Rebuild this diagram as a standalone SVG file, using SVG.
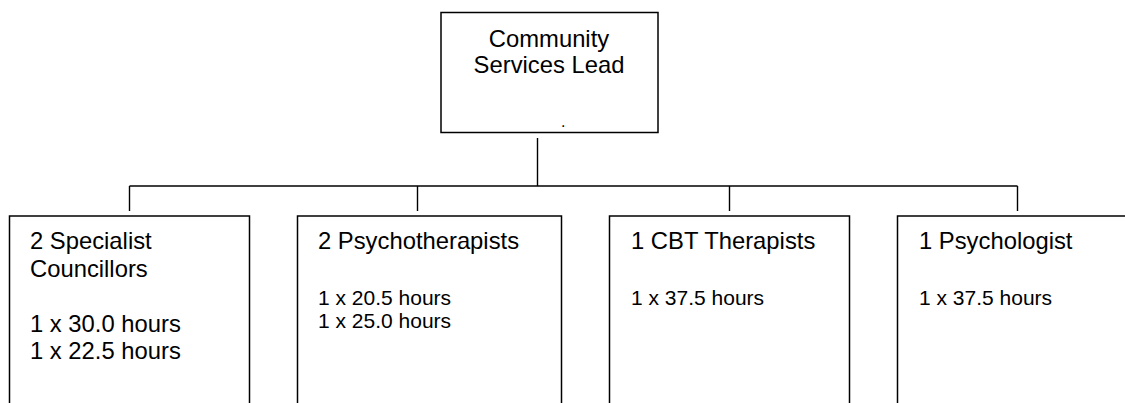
<svg xmlns="http://www.w3.org/2000/svg" width="1125" height="403" viewBox="0 0 1125 403">
<style>
.box{fill:#fff;stroke:#000;stroke-width:1.5}
.con{fill:none;stroke:#000;stroke-width:1.4}
text{font-family:"Liberation Sans",Arial,sans-serif;fill:#000}
.t{font-size:23.8px}
.h{font-size:21px}
</style>
<rect width="1125" height="403" fill="#fff"/>
<g id="connectors">
<line class="con" x1="537.5" y1="138" x2="537.5" y2="186"/>
<line class="con" x1="129.5" y1="186" x2="1017.5" y2="186"/>
<line class="con" x1="129.5" y1="186" x2="129.5" y2="211"/>
<line class="con" x1="417.5" y1="186" x2="417.5" y2="211"/>
<line class="con" x1="729.5" y1="186" x2="729.5" y2="211"/>
<line class="con" x1="1017.5" y1="186" x2="1017.5" y2="211"/>
</g>
<g id="lead">
<rect class="box" x="441" y="12.5" width="217" height="120"/>
<text class="t" x="549" y="47" text-anchor="middle">Community</text>
<text class="t" x="549" y="73" text-anchor="middle">Services Lead</text>
<text x="561" y="127" font-size="16">.</text>
</g>
<g id="councillors">
<rect class="box" x="9.5" y="216" width="240" height="220"/>
<text class="t" x="30" y="249">2 Specialist</text>
<text class="t" x="30" y="277">Councillors</text>
<text class="t" x="30" y="332">1 x 30.0 hours</text>
<text class="t" x="30" y="359">1 x 22.5 hours</text>
</g>
<g id="psychotherapists">
<rect class="box" x="297.5" y="216" width="264" height="220"/>
<text class="t" x="318" y="249">2 Psychotherapists</text>
<text class="h" x="318" y="305">1 x 20.5 hours</text>
<text class="h" x="318" y="328">1 x 25.0 hours</text>
</g>
<g id="cbt">
<rect class="box" x="609.5" y="216" width="240" height="220"/>
<text class="t" x="631" y="249">1 CBT Therapists</text>
<text class="h" x="631" y="305">1 x 37.5 hours</text>
</g>
<g id="psychologist">
<rect class="box" x="897.5" y="216" width="260" height="220"/>
<text class="t" x="919" y="249">1 Psychologist</text>
<text class="h" x="919" y="305">1 x 37.5 hours</text>
</g>
</svg>
